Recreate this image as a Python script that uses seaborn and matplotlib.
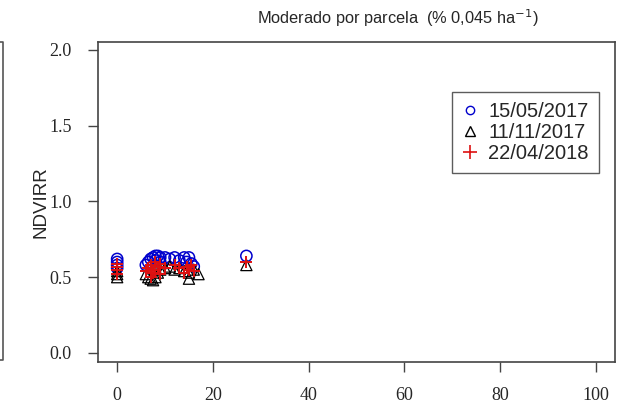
import numpy as np
import pandas as pd
import matplotlib
matplotlib.use('Agg')
import matplotlib.pyplot as plt
from matplotlib.lines import Line2D
import seaborn as sns

# values
x_1505 = [0, 0, 0, 0, 6, 6.5, 7, 7.5, 8, 8, 8.5, 9, 9, 10, 11, 12, 13, 14, 14.5, 15, 15.5, 16, 27]
y_1505 = [0.62, 0.60, 0.58, 0.56, 0.58, 0.60, 0.62, 0.63, 0.64, 0.61, 0.64, 0.63, 0.60, 0.63,
          0.62, 0.63, 0.61, 0.63, 0.60, 0.63, 0.59, 0.57, 0.64]

x_1111 = [0, 0, 0, 6, 6.5, 7, 7.5, 8, 8.5, 9, 10, 11, 12, 13, 14, 15, 15, 16, 17, 27]
y_1111 = [0.50, 0.52, 0.54, 0.52, 0.50, 0.49, 0.48, 0.50, 0.53, 0.55, 0.56, 0.57, 0.55, 0.56,
          0.54, 0.49, 0.53, 0.55, 0.52, 0.58]

x_2204 = [0, 0, 0, 0, 6, 6.5, 7, 7, 7.5, 8, 8, 8.5, 9, 9, 10, 12, 13, 14, 14.5, 15, 15.5, 16, 27]
y_2204 = [0.52, 0.55, 0.57, 0.59, 0.54, 0.56, 0.50, 0.58, 0.53, 0.55, 0.60, 0.57, 0.52, 0.59,
          0.56, 0.58, 0.56, 0.53, 0.57, 0.55, 0.58, 0.54, 0.60]

fechas = ['15/05/2017', '11/11/2017', '22/04/2018']
colores = ['#0000cc', 'black', '#dd1111']

df = pd.concat([
    pd.DataFrame({'x': x_1505, 'y': y_1505, 'fecha': fechas[0]}),
    pd.DataFrame({'x': x_1111, 'y': y_1111, 'fecha': fechas[1]}),
    pd.DataFrame({'x': x_2204, 'y': y_2204, 'fecha': fechas[2]}),
])

sns.set_style('white')
plt.rcParams['font.family'] = ['Liberation Sans', 'DejaVu Sans']

fig = plt.figure(figsize=(6.18, 4.05), dpi=100)
ax = fig.add_axes([0.1586, 0.106, 0.8364, 0.790])

d = df[df.fecha == fechas[0]]
sns.scatterplot(data=d, x='x', y='y', ax=ax, marker='o', s=65,
                facecolors='none', edgecolor=colores[0], linewidth=1.1, legend=False)
d = df[df.fecha == fechas[1]]
sns.scatterplot(data=d, x='x', y='y', ax=ax, marker='^', s=65,
                facecolors='none', edgecolor=colores[1], linewidth=0.9, legend=False)
d = df[df.fecha == fechas[2]]
sns.scatterplot(data=d, x='x', y='y', ax=ax, marker='+', s=80,
                color=colores[2], linewidth=1.4, legend=False)

ax.set_xlim(-4, 104)
ax.set_ylim(-0.06, 2.05)
ax.set_xticks([0, 20, 40, 60, 80, 100])
ax.set_yticks([0.0, 0.5, 1.0, 1.5, 2.0])
ax.set_yticklabels(['0.0', '0.5', '1.0', '1.5', '2.0'])
ax.set_xlabel('')
ax.set_ylabel('NDVIRR', fontsize=13.5, labelpad=0)
for lab in ax.get_xticklabels() + ax.get_yticklabels():
    lab.set_family('Liberation Serif')
    lab.set_fontsize(13)
ax.tick_params(axis='x', length=7, width=1, color='#444444', direction='out', pad=11, bottom=True)
ax.tick_params(axis='y', length=7, width=1, color='#444444', direction='out', pad=12, left=True)
for sp in ax.spines.values():
    sp.set_color('#444444')
    sp.set_linewidth(1.2)

fig.text(0.644, 0.955, 'Moderado por parcela  (% 0,045 ha$^{-1}$)', ha='center', va='center',
         fontsize=11.8)

handles = [
    Line2D([], [], marker='o', linestyle='', markerfacecolor='none', markeredgecolor=colores[0], markersize=6),
    Line2D([], [], marker='^', linestyle='', markerfacecolor='none', markeredgecolor=colores[1], markersize=7),
    Line2D([], [], marker='+', linestyle='', color=colores[2], markersize=10, markeredgewidth=1.2),
]
leg = ax.legend(handles, fechas, loc='upper left', bbox_to_anchor=(0.685, 0.845),
                fontsize=14.5, frameon=True, fancybox=False, handlelength=0.8,
                handletextpad=0.5, labelspacing=0.1, borderpad=0.5, borderaxespad=0)
leg.get_frame().set_edgecolor('#333333')
leg.get_frame().set_linewidth(1.0)

# edge of the neighbouring panel cut off at the left
fig.add_artist(Line2D([0, 0.005, 0.005, 0], [0.896, 0.896, 0.11, 0.11],
                      color='#555555', linewidth=1.2, transform=fig.transFigure))

fig.savefig('out.png', dpi=100)
